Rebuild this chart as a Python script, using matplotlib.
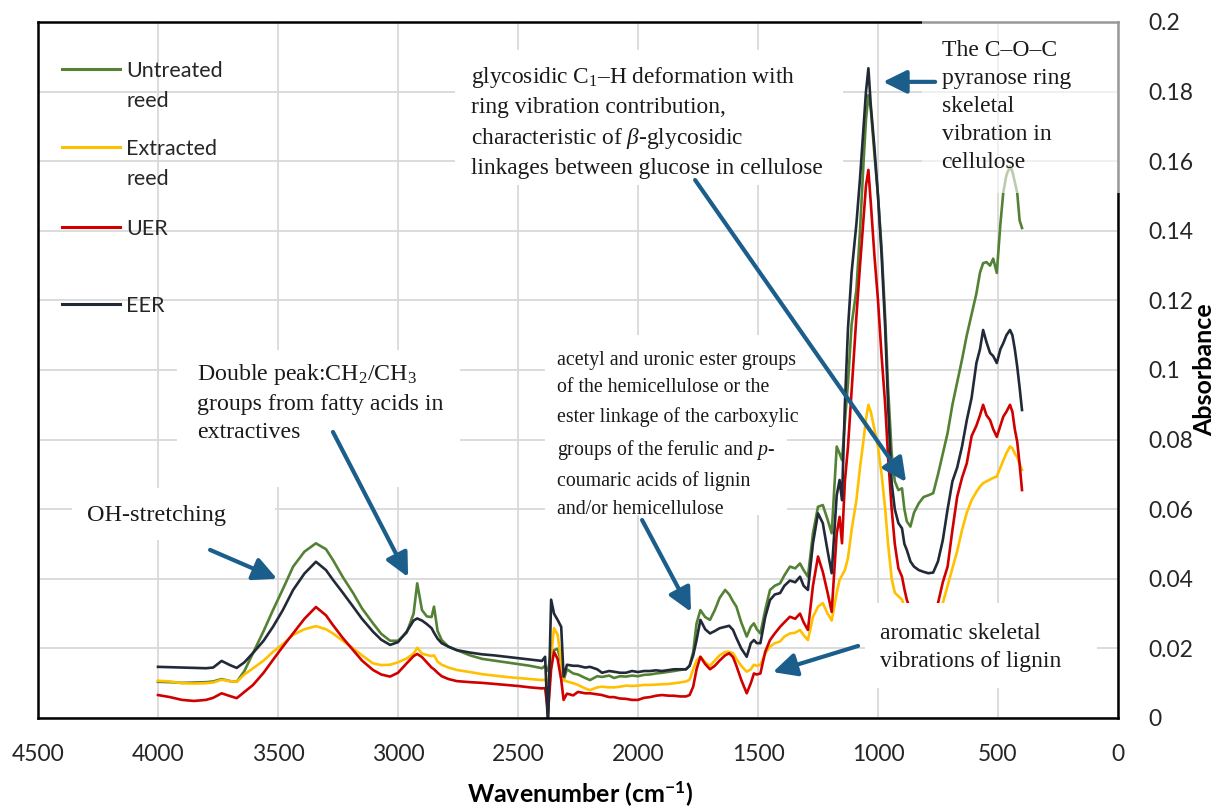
import matplotlib
matplotlib.use("Agg")
import matplotlib.pyplot as plt
from matplotlib.patches import Rectangle
from matplotlib.lines import Line2D

# fonts: Calibri-like sans for axes, Times-like serif for the band notes
plt.rcParams['font.family'] = ['Lato', 'DejaVu Sans']
plt.rcParams['mathtext.fontset'] = 'custom'
plt.rcParams['mathtext.rm'] = 'Liberation Serif'
plt.rcParams['mathtext.it'] = 'Liberation Serif:italic'
plt.rcParams['mathtext.bf'] = 'Lato:bold'

# FTIR spectra, wavenumber in cm-1
wavenumber = [
    4000, 3950, 3900, 3850, 3800, 3770, 3735, 3700, 3672, 3640,
    3604, 3560, 3521, 3480, 3437, 3390, 3342, 3300, 3271, 3230,
    3187, 3150, 3104, 3070, 3033, 3000, 2964, 2935, 2920, 2900,
    2880, 2860, 2850, 2835, 2818, 2790, 2755, 2700, 2650, 2600,
    2550, 2500, 2450, 2400, 2387, 2375, 2362, 2350, 2335, 2320,
    2310, 2296, 2270, 2250, 2220, 2200, 2170, 2150, 2120, 2100,
    2075, 2050, 2025, 2000, 1975, 1950, 1925, 1900, 1870, 1850,
    1825, 1800, 1785, 1770, 1756, 1740, 1720, 1700, 1680, 1660,
    1637, 1620, 1604, 1590, 1570, 1547, 1530, 1517, 1505, 1490,
    1470, 1450, 1430, 1408, 1390, 1367, 1345, 1325, 1310, 1292,
    1271, 1250, 1230, 1210, 1193, 1172, 1160, 1150, 1138, 1125,
    1110, 1090, 1075, 1060, 1050, 1040, 1030, 1015, 1000, 985,
    970, 958, 943, 930, 915, 900, 890, 880, 865, 850,
    830, 810, 790, 770, 750, 730, 710, 690, 670, 650,
    630, 610, 590, 575, 562, 548, 533, 520, 505, 490,
    478, 465, 450, 440, 430, 420, 410, 400,
]

untreated = [
    0.0104, 0.0103, 0.0101, 0.0102, 0.0103, 0.0105, 0.0112, 0.0106, 0.0104, 0.0135,
    0.0187, 0.0250, 0.0310, 0.0370, 0.0435, 0.0478, 0.0502, 0.0485, 0.0454, 0.0405,
    0.0359, 0.0315, 0.0272, 0.0242, 0.0222, 0.0222, 0.0245, 0.0300, 0.0387, 0.0310,
    0.0292, 0.0290, 0.0320, 0.0250, 0.0224, 0.0205, 0.0195, 0.0180, 0.0170, 0.0165,
    0.0160, 0.0155, 0.0150, 0.0143, 0.0150, 0.0135, 0.0190, 0.0195, 0.0199, 0.0160,
    0.0109, 0.0140, 0.0128, 0.0125, 0.0115, 0.0109, 0.0120, 0.0118, 0.0122, 0.0115,
    0.0120, 0.0119, 0.0122, 0.0120, 0.0124, 0.0125, 0.0128, 0.0130, 0.0133, 0.0135,
    0.0138, 0.0140, 0.0150, 0.0190, 0.0272, 0.0310, 0.0290, 0.0282, 0.0310, 0.0345,
    0.0368, 0.0355, 0.0335, 0.0320, 0.0275, 0.0234, 0.0262, 0.0272, 0.0255, 0.0243,
    0.0310, 0.0368, 0.0380, 0.0387, 0.0410, 0.0435, 0.0430, 0.0444, 0.0425, 0.0406,
    0.0531, 0.0607, 0.0612, 0.0570, 0.0531, 0.0780, 0.0760, 0.0741, 0.0850, 0.0963,
    0.1130, 0.1230, 0.1400, 0.1600, 0.1720, 0.1790, 0.1750, 0.1620, 0.1500, 0.1350,
    0.1150, 0.0950, 0.0760, 0.0680, 0.0655, 0.0660, 0.0600, 0.0565, 0.0550, 0.0590,
    0.0617, 0.0635, 0.0640, 0.0646, 0.0700, 0.0760, 0.0819, 0.0900, 0.0965, 0.1030,
    0.1100, 0.1160, 0.1220, 0.1280, 0.1307, 0.1310, 0.1300, 0.1320, 0.1279, 0.1420,
    0.1510, 0.1560, 0.1585, 0.1570, 0.1540, 0.1510, 0.1430, 0.1408,
]

extracted = [
    0.0107, 0.0105, 0.0100, 0.0099, 0.0100, 0.0102, 0.0110, 0.0106, 0.0104, 0.0125,
    0.0143, 0.0165, 0.0190, 0.0212, 0.0239, 0.0255, 0.0264, 0.0255, 0.0243, 0.0222,
    0.0200, 0.0180, 0.0157, 0.0152, 0.0153, 0.0160, 0.0171, 0.0185, 0.0202, 0.0185,
    0.0181, 0.0178, 0.0180, 0.0162, 0.0153, 0.0145, 0.0138, 0.0132, 0.0126, 0.0122,
    0.0118, 0.0115, 0.0112, 0.0109, 0.0110, 0.0100, 0.0180, 0.0258, 0.0240, 0.0160,
    0.0109, 0.0105, 0.0100, 0.0095, 0.0085, 0.0080, 0.0088, 0.0090, 0.0088, 0.0088,
    0.0090, 0.0093, 0.0092, 0.0093, 0.0095, 0.0095, 0.0096, 0.0097, 0.0098, 0.0100,
    0.0102, 0.0105, 0.0110, 0.0140, 0.0165, 0.0176, 0.0160, 0.0150, 0.0165, 0.0180,
    0.0190, 0.0190, 0.0186, 0.0170, 0.0150, 0.0133, 0.0140, 0.0153, 0.0150, 0.0153,
    0.0185, 0.0205, 0.0215, 0.0220, 0.0234, 0.0243, 0.0245, 0.0253, 0.0238, 0.0224,
    0.0290, 0.0320, 0.0330, 0.0300, 0.0280, 0.0360, 0.0397, 0.0410, 0.0425, 0.0460,
    0.0540, 0.0626, 0.0720, 0.0800, 0.0860, 0.0900, 0.0880, 0.0830, 0.0780, 0.0700,
    0.0600, 0.0500, 0.0400, 0.0360, 0.0350, 0.0340, 0.0320, 0.0300, 0.0285, 0.0275,
    0.0268, 0.0265, 0.0268, 0.0275, 0.0300, 0.0330, 0.0380, 0.0430, 0.0480, 0.0540,
    0.0590, 0.0626, 0.0650, 0.0665, 0.0675, 0.0680, 0.0685, 0.0690, 0.0694, 0.0720,
    0.0740, 0.0761, 0.0780, 0.0775, 0.0760, 0.0750, 0.0730, 0.0713,
]

uer = [
    0.0066, 0.0060, 0.0052, 0.0049, 0.0052, 0.0058, 0.0071, 0.0063, 0.0057, 0.0075,
    0.0095, 0.0130, 0.0167, 0.0205, 0.0243, 0.0285, 0.0319, 0.0295, 0.0267, 0.0230,
    0.0195, 0.0165, 0.0138, 0.0125, 0.0119, 0.0130, 0.0157, 0.0178, 0.0184, 0.0175,
    0.0160, 0.0145, 0.0140, 0.0130, 0.0120, 0.0112, 0.0106, 0.0103, 0.0101, 0.0098,
    0.0095, 0.0092, 0.0088, 0.0085, 0.0086, 0.0015, 0.0140, 0.0190, 0.0170, 0.0110,
    0.0052, 0.0070, 0.0065, 0.0075, 0.0071, 0.0071, 0.0068, 0.0066, 0.0060, 0.0060,
    0.0056, 0.0055, 0.0052, 0.0052, 0.0058, 0.0060, 0.0064, 0.0066, 0.0064, 0.0064,
    0.0062, 0.0062, 0.0066, 0.0090, 0.0140, 0.0176, 0.0155, 0.0140, 0.0150, 0.0165,
    0.0180, 0.0186, 0.0175, 0.0150, 0.0110, 0.0071, 0.0100, 0.0128, 0.0125, 0.0128,
    0.0190, 0.0224, 0.0243, 0.0262, 0.0275, 0.0291, 0.0285, 0.0300, 0.0275, 0.0253,
    0.0380, 0.0464, 0.0420, 0.0360, 0.0305, 0.0530, 0.0578, 0.0502, 0.0680, 0.0780,
    0.0940, 0.1153, 0.1300, 0.1440, 0.1530, 0.1575, 0.1480, 0.1330, 0.1200, 0.1040,
    0.0900, 0.0750, 0.0600, 0.0500, 0.0430, 0.0406, 0.0370, 0.0340, 0.0310, 0.0300,
    0.0292, 0.0295, 0.0300, 0.0305, 0.0330, 0.0390, 0.0435, 0.0540, 0.0636, 0.0690,
    0.0732, 0.0810, 0.0840, 0.0870, 0.0900, 0.0870, 0.0856, 0.0830, 0.0808, 0.0840,
    0.0866, 0.0880, 0.0900, 0.0880, 0.0830, 0.0794, 0.0730, 0.0655,
]

eer = [
    0.0147, 0.0146, 0.0145, 0.0144, 0.0143, 0.0145, 0.0164, 0.0152, 0.0144, 0.0160,
    0.0187, 0.0222, 0.0262, 0.0310, 0.0368, 0.0415, 0.0449, 0.0425, 0.0397, 0.0360,
    0.0320, 0.0285, 0.0248, 0.0225, 0.0210, 0.0218, 0.0248, 0.0280, 0.0286, 0.0280,
    0.0270, 0.0258, 0.0245, 0.0228, 0.0215, 0.0205, 0.0195, 0.0188, 0.0183, 0.0180,
    0.0176, 0.0172, 0.0168, 0.0164, 0.0176, -0.0030, 0.0340, 0.0300, 0.0282, 0.0262,
    0.0119, 0.0153, 0.0150, 0.0150, 0.0145, 0.0147, 0.0140, 0.0130, 0.0135, 0.0133,
    0.0130, 0.0130, 0.0135, 0.0132, 0.0135, 0.0135, 0.0137, 0.0135, 0.0138, 0.0140,
    0.0140, 0.0140, 0.0150, 0.0180, 0.0224, 0.0282, 0.0255, 0.0243, 0.0250, 0.0258,
    0.0262, 0.0265, 0.0253, 0.0230, 0.0200, 0.0176, 0.0215, 0.0224, 0.0215, 0.0215,
    0.0290, 0.0339, 0.0355, 0.0359, 0.0380, 0.0395, 0.0390, 0.0406, 0.0380, 0.0368,
    0.0502, 0.0588, 0.0560, 0.0480, 0.0416, 0.0640, 0.0684, 0.0626, 0.0900, 0.1120,
    0.1280, 0.1420, 0.1550, 0.1700, 0.1800, 0.1867, 0.1760, 0.1640, 0.1500, 0.1330,
    0.1120, 0.0900, 0.0675, 0.0600, 0.0560, 0.0545, 0.0500, 0.0483, 0.0450, 0.0435,
    0.0425, 0.0420, 0.0416, 0.0418, 0.0450, 0.0511, 0.0600, 0.0680, 0.0720, 0.0780,
    0.0856, 0.0920, 0.1020, 0.1060, 0.1115, 0.1080, 0.1049, 0.1040, 0.1020, 0.1060,
    0.1077, 0.1100, 0.1115, 0.1100, 0.1060, 0.1010, 0.0950, 0.0885,
]

labels = ['Untreated\nreed', 'Extracted\nreed', 'UER', 'EER']
colors = ['#548235', '#FFC000', '#D00000', '#222A38']
arrow_col = '#1B5E8C'
serif = ['Liberation Serif', 'DejaVu Serif']

fig = plt.figure(figsize=(12.2, 8.08), dpi=100)
ax = fig.add_axes([38 / 1220, 1 - 718 / 808, 1080 / 1220, 696 / 808])

for y, c in zip([untreated, extracted, uer, eer], colors):
    ax.plot(wavenumber, y, color=c, lw=1.9, zorder=2)

ax.set_xlim(4500, 0)
ax.set_ylim(0, 0.2)
ax.set_xticks([4500, 4000, 3500, 3000, 2500, 2000, 1500, 1000, 500, 0])
yt = [0, 0.02, 0.04, 0.06, 0.08, 0.1, 0.12, 0.14, 0.16, 0.18, 0.2]
ax.set_yticks(yt)
ax.set_yticklabels(['%g' % v for v in yt])
ax.yaxis.tick_right()
ax.tick_params(length=0, labelsize=16.5, colors='#262626')
ax.tick_params(axis='x', pad=19)
ax.tick_params(axis='y', pad=22)
for lab in ax.get_yticklabels():
    lab.set_ha('left')
ax.grid(color='#d9d9d9', lw=1.3)
ax.set_axisbelow(True)
for s in ax.spines.values():
    s.set_linewidth(1.8)
    s.set_color('black')

fig.text(1205 / 1220, 1 - 370 / 808, 'Absorbance', rotation=90, ha='center',
         va='center', fontsize=18, fontweight='bold')
fig.text(580 / 1220, 1 - 794 / 808, r'Wavenumber (cm$^{\mathbf{-1}}$)', ha='center',
         va='center', fontsize=18, fontweight='bold')

# legend drawn by hand, Excel style with wrapped labels
leg_y = [0.9325, 0.8204, 0.7055, 0.5948]
for lab, c, yy in zip(labels, colors, leg_y):
    ax.add_line(Line2D([0.0222, 0.0759], [yy, yy], color=c, lw=2.2,
                       transform=ax.transAxes, zorder=5))
    ax.text(0.0815, yy + 0.0115, lab, transform=ax.transAxes, ha='left', va='top',
            fontsize=15.5, color='#262626', linespacing=1.6, zorder=5)

# white text boxes behind the band notes (wn_left, wn_right, a_bottom, a_top, alpha)
boxes = [
    (4358, 3512, 0.0511, 0.0661, 1.0),
    (3921, 2742, 0.0664, 0.1057, 1.0),
    (2763, 1146, 0.1532, 0.1920, 1.0),
    (817, -29, 0.1509, 0.2020, 0.6),
    (2387, 1379, 0.0583, 0.1100, 1.0),
    (1054, 88, 0.0086, 0.0330, 1.0),
]
for x0, x1, y0, y1, al in boxes:
    ax.add_patch(Rectangle((x0, y0), x1 - x0, y1 - y0, facecolor='white',
                           edgecolor='none', alpha=al, zorder=3, clip_on=False))

# band notes: text, left edge (cm-1), top (absorbance), size, line spacing
notes = [
    ('OH-stretching', 4297, 0.0611, 17.5, 1.44),
    ('Double peak:CH$_2$/CH$_3$\ngroups from fatty acids in\nextractives',
     3839, 0.1024, 17.2, 1.44),
    ('glycosidic C$_1$–H deformation with\nring vibration contribution,\n'
     'characteristic of $\\mathit{β}$-glycosidic\nlinkages between glucose in cellulose',
     2696, 0.1877, 16.8, 1.44),
    ('The C–O–C\npyranose ring\nskeletal\nvibration in\ncellulose', 735, 0.1949, 17, 1.44),
    ('acetyl and uronic ester groups\nof the hemicellulose or the\nester linkage of the carboxylic\n'
     'groups of the ferulic and $\\mathit{p}$-\ncoumaric acids of lignin\nand/or hemicellulose',
     2337, 0.1056, 14.3, 1.64),
    ('aromatic skeletal\nvibrations of lignin', 992, 0.0272, 17, 1.44),
]
for txt, x, y, fs, ls in notes:
    ax.text(x, y, txt, ha='left', va='top', fontsize=fs, family=serif,
            color='#1a1a1a', linespacing=ls, zorder=4)

# arrows: (tail, head) in data units
arrows = [
    ((3783, 0.0483), (3504, 0.0400)),
    ((3271, 0.0822), (2958, 0.0405)),
    ((1762, 0.1546), (883, 0.0678)),
    ((762, 0.1828), (979, 0.1828)),
    ((1983, 0.0569), (1779, 0.0305)),
    ((1083, 0.0207), (1438, 0.0132)),
]
for tail, head in arrows:
    ax.annotate('', xy=head, xytext=tail, zorder=6,
                arrowprops=dict(arrowstyle='-|>,head_length=0.65,head_width=0.32',
                                color=arrow_col, lw=3, mutation_scale=22,
                                shrinkA=0, shrinkB=0))

fig.savefig('out.png', dpi=100)
